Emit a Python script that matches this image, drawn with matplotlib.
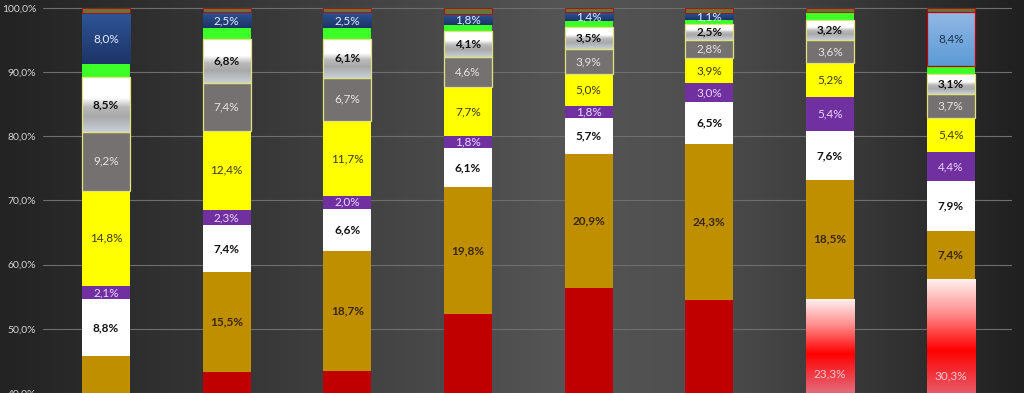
import numpy as np
import matplotlib
matplotlib.use("Agg")
import matplotlib.pyplot as plt
from matplotlib.colors import LinearSegmentedColormap

plt.rcParams['font.family'] = ['Lato', 'DejaVu Sans']

# ---------------- data (percent, bottom -> top) ----------------
categories = ['A', 'B', 'C', 'D', 'E', 'F', 'G', 'H']
base   = [0.0, 0.0, 0.0, 0.0, 0.0, 0.0, 31.4, 27.5]
red    = [27.2, 43.3, 43.4, 52.3, 56.3, 54.5, 23.3, 30.3]
gold   = [18.6, 15.5, 18.7, 19.8, 20.9, 24.3, 18.5, 7.4]
white  = [8.8, 7.4, 6.6, 6.1, 5.7, 6.5, 7.6, 7.9]
purple = [2.1, 2.3, 2.0, 1.8, 1.8, 3.0, 5.4, 4.4]
yellow = [14.8, 12.4, 11.7, 7.7, 5.0, 3.9, 5.2, 5.4]
gray   = [9.2, 7.4, 6.7, 4.6, 3.9, 2.8, 3.6, 3.7]
silver = [8.5, 6.8, 6.1, 4.1, 3.5, 2.5, 3.2, 3.1]
green  = [2.0, 1.7, 1.6, 0.9, 0.8, 0.6, 1.2, 1.2]
navy   = [8.0, 2.5, 2.5, 1.8, 1.4, 1.1, 0.0, 8.4]
top    = [0.8, 0.7, 0.7, 0.9, 0.7, 0.8, 0.6, 0.7]
yticks = [40, 50, 60, 70, 80, 90, 100]

YMIN, YMAX = 40.3, 101.24

# ---------------- figure ----------------
fig = plt.figure(figsize=(10.24, 3.93), dpi=100)
bg = fig.add_axes([0, 0, 1, 1], zorder=-10)
bgcmap = LinearSegmentedColormap.from_list('bg', [
    (0.0, '#232323'), (0.25, '#383838'), (0.55, '#555555'),
    (0.68, '#4f4f4f'), (0.85, '#363636'), (1.0, '#202020')])
gx = np.linspace(0, 1, 512)[None, :]
bg.imshow(gx, cmap=bgcmap, aspect='auto', extent=[0, 1, 0, 1])
bg.axis('off')

ax = fig.add_axes([43 / 1024, 0, (1012 - 43) / 1024, 1])
ax.patch.set_alpha(0)
x = np.arange(len(categories))
w = 0.4

def grad_cmap(name, stops):
    return LinearSegmentedColormap.from_list(name, stops)

silver_cm = grad_cmap('silver', [(0.0, '#c9d0da'), (0.28, '#a9a9a9'),
                                 (0.45, '#b9b9b9'), (0.62, '#ffffff'), (1.0, '#ffffff')])
redgrad_cm = grad_cmap('redg', [(0.0, '#c83848'), (0.38, '#e46878'),
                                (0.63, '#ff0000'), (0.82, '#ff8c8c'), (1.0, '#fff4f4')])
navy_cm = grad_cmap('navy', [(0.0, '#1c3466'), (1.0, '#2f5597')])
lblue_cm = grad_cmap('lblue', [(0.0, '#5b9bd5'), (1.0, '#92b8e4')])

def fill_gradient(patch, cmap):
    x0, y0 = patch.get_x(), patch.get_y()
    ww, hh = patch.get_width(), patch.get_height()
    if hh <= 0:
        return
    g = np.linspace(0, 1, 256)[:, None]
    im = ax.imshow(g, cmap=cmap, aspect='auto', origin='lower',
                   extent=[x0, x0 + ww, y0, y0 + hh], zorder=2)
    im.set_clip_path(patch)

def fmt(v):
    return f"{v:.1f}%".replace('.', ',')

series = [
    # values, color, edgecolor, edge width, label color, bold, gradient
    (base,   '#7f7f7f', 'none',    0.0, None,      False, None),
    (red,    '#c00000', 'none',    0.0, '#f6c8d0', False, 'red'),
    (gold,   '#bf8f00', 'none',    0.0, '#3a2800', True,  None),
    (white,  '#ffffff', 'none',    0.0, '#111111', True,  None),
    (purple, '#7030a0', 'none',    0.0, '#ead6ff', False, None),
    (yellow, '#ffff00', 'none',    0.0, '#3c3c10', False, None),
    (gray,   '#767171', '#e2e27a', 0.9, '#e4e4e4', False, None),
    (silver, '#ffffff', '#e2e27a', 0.9, '#111111', True,  'silver'),
    (green,  '#3cff28', 'none',    0.0, None,      False, None),
    (navy,   '#2a4a8a', 'none',    0.0, '#e4ecff', False, 'navy'),
    (top,    '#66743a', '#c00000', 0.6, None,      False, None),
]

bottom = np.zeros(len(categories))
for vals, color, ec, lw, lc, bold, grad in series:
    vals = np.array(vals, dtype=float)
    bars = ax.bar(x, vals, width=w, bottom=bottom, color=color,
                  edgecolor=ec, linewidth=lw, zorder=2)
    for i, p in enumerate(bars):
        if vals[i] <= 0:
            continue
        if grad == 'silver':
            p.set_facecolor('none')
            fill_gradient(p, silver_cm)
            p.set_zorder(3)
        elif grad == 'red' and base[i] > 0:
            p.set_facecolor('none')
            fill_gradient(p, redgrad_cm)
        elif grad == 'navy':
            p.set_facecolor('none')
            fill_gradient(p, lblue_cm if i == 7 else navy_cm)
            if i == 7:
                p.set_edgecolor('#c00000')
                p.set_linewidth(0.9)
                p.set_zorder(3)
        yc = bottom[i] + vals[i] / 2
        if lc is not None and YMIN + 1.5 < yc < YMAX:
            tc = lc
            if grad == 'navy' and i == 7:
                tc = '#1f3050'
            ax.text(x[i], yc, fmt(vals[i]), ha='center',
                    va='center', fontsize=8.5, color=tc,
                    fontweight='bold' if bold else 'normal', zorder=5,
                    clip_on=True)
    bottom += vals

ax.set_xlim(-0.522, 7.508)
ax.set_ylim(YMIN, YMAX)
ax.set_yticks(yticks)
ax.set_yticklabels([f"{t:.1f}%".replace('.', ',') for t in yticks],
                   color='#d4d4d4', fontsize=7.5)
ax.tick_params(axis='y', length=0, pad=5)
ax.tick_params(axis='x', length=0, labelbottom=False)
ax.grid(axis='y', color='#6e6e6e', linewidth=0.8, zorder=0)
ax.set_axisbelow(True)
for s in ax.spines.values():
    s.set_visible(False)

fig.savefig('out.png', dpi=100)
